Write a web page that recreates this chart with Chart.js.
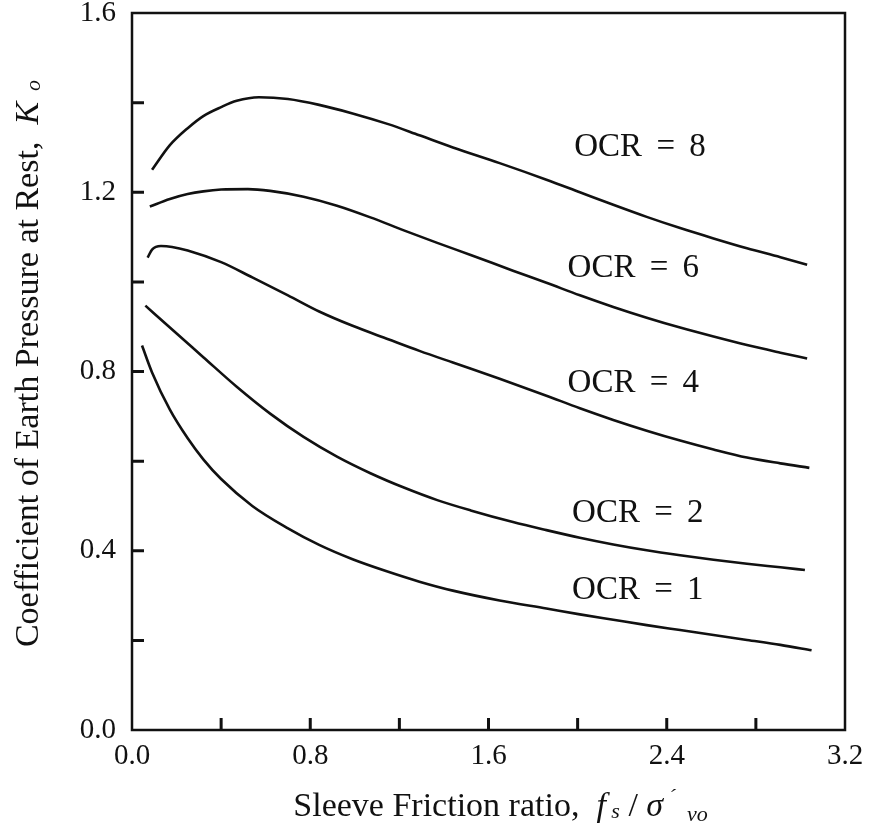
<!DOCTYPE html>
<html>
<head>
<meta charset="utf-8">
<script src="https://cdn.jsdelivr.net/npm/chart.js@4.4.1/dist/chart.umd.min.js"></script>
<style>
  html, body { margin: 0; padding: 0; background: #fff; }
  #wrap { width: 870px; height: 824px; }
</style>
</head>
<body>
<div id="wrap"><canvas id="chart"></canvas></div>
<script>
// Ko vs sleeve friction ratio, one curve per OCR
const ocrNames = ['OCR = 8', 'OCR = 6', 'OCR = 4', 'OCR = 2', 'OCR = 1'];

const ocr8X = [0.09, 0.17, 0.25, 0.32, 0.40, 0.47, 0.57, 0.70, 0.84, 0.99, 1.15, 1.29, 1.44, 1.65, 1.86, 2.01, 2.16, 2.31, 2.46, 2.61, 2.76, 2.91, 3.03];
const ocr8K = [1.25, 1.305, 1.343, 1.370, 1.390, 1.404, 1.412, 1.408, 1.395, 1.376, 1.352, 1.327, 1.300, 1.265, 1.228, 1.200, 1.172, 1.145, 1.120, 1.097, 1.075, 1.055, 1.038];

const ocr6X = [0.08, 0.17, 0.25, 0.32, 0.40, 0.52, 0.62, 0.77, 0.92, 1.07, 1.22, 1.37, 1.52, 1.71, 1.86, 2.01, 2.16, 2.31, 2.46, 2.61, 2.76, 2.91, 3.03];
const ocr6K = [1.168, 1.185, 1.196, 1.202, 1.206, 1.207, 1.203, 1.190, 1.170, 1.144, 1.115, 1.087, 1.060, 1.025, 0.998, 0.970, 0.944, 0.920, 0.898, 0.878, 0.859, 0.842, 0.829];

const ocr4X = [0.07, 0.09, 0.13, 0.18, 0.25, 0.40, 0.54, 0.70, 0.84, 0.99, 1.15, 1.29, 1.44, 1.65, 1.86, 2.01, 2.16, 2.31, 2.46, 2.61, 2.76, 2.91, 3.04];
const ocr4K = [1.054, 1.072, 1.080, 1.078, 1.070, 1.044, 1.010, 0.970, 0.934, 0.902, 0.872, 0.846, 0.820, 0.784, 0.746, 0.718, 0.692, 0.668, 0.646, 0.626, 0.608, 0.595, 0.585];

const ocr2X = [0.06, 0.17, 0.32, 0.47, 0.62, 0.77, 0.92, 1.07, 1.22, 1.37, 1.52, 1.71, 1.86, 2.01, 2.16, 2.31, 2.46, 2.61, 2.76, 2.91, 3.02];
const ocr2K = [0.947, 0.898, 0.832, 0.766, 0.706, 0.654, 0.610, 0.573, 0.541, 0.513, 0.490, 0.464, 0.446, 0.429, 0.414, 0.401, 0.390, 0.380, 0.371, 0.363, 0.357];

const ocr1X = [0.045, 0.09, 0.17, 0.25, 0.32, 0.40, 0.54, 0.70, 0.84, 0.99, 1.15, 1.29, 1.44, 1.65, 1.86, 2.01, 2.16, 2.31, 2.46, 2.61, 2.76, 2.91, 3.05];
const ocr1K = [0.858, 0.798, 0.715, 0.651, 0.604, 0.560, 0.500, 0.450, 0.413, 0.381, 0.353, 0.331, 0.311, 0.289, 0.271, 0.258, 0.246, 0.234, 0.223, 0.212, 0.201, 0.190, 0.178];

// where each "OCR = n" label sits, in data units (label centre)
const labelX = [2.28, 2.25, 2.25, 2.27, 2.27];
const labelK = [1.30, 1.03, 0.773, 0.484, 0.312];

const xTickLabels = ['0.0', '0.8', '1.6', '2.4', '3.2'];
const yTickLabels = ['0.0', '0.4', '0.8', '1.2', '1.6'];

const seriesX = [ocr8X, ocr6X, ocr4X, ocr2X, ocr1X];
const seriesK = [ocr8K, ocr6K, ocr4K, ocr2K, ocr1K];

const ink = '#111';
const serif = '"Liberation Serif", "Times New Roman", serif';

// draw a run of text pieces with different fonts, centred on cx
function drawRich(ctx, segs, cx, baseY) {
  let total = 0;
  segs.forEach(s => { ctx.font = s.font; s.w = ctx.measureText(s.t).width; total += s.w; });
  let x = cx - total / 2;
  ctx.textAlign = 'left';
  ctx.textBaseline = 'alphabetic';
  segs.forEach(s => {
    ctx.font = s.font;
    ctx.fillText(s.t, x, baseY + (s.dy || 0));
    x += s.w;
  });
}

const decorations = {
  id: 'decorations',
  afterDraw(chart) {
    const { ctx, chartArea: a, scales: { x, y } } = chart;
    ctx.save();
    ctx.strokeStyle = ink;
    ctx.fillStyle = ink;
    ctx.lineWidth = 2.5;
    ctx.strokeRect(a.left, a.top, a.right - a.left, a.bottom - a.top);

    // short ticks pointing into the plot
    ctx.lineWidth = 3;
    ctx.beginPath();
    x.ticks.forEach(t => {
      if (t.value <= x.min + 1e-6 || t.value >= x.max - 1e-6) return;
      const px = x.getPixelForValue(t.value);
      ctx.moveTo(px, a.bottom);
      ctx.lineTo(px, a.bottom - 12);
    });
    y.ticks.forEach(t => {
      if (t.value <= y.min + 1e-6 || t.value >= y.max - 1e-6) return;
      const py = y.getPixelForValue(t.value);
      ctx.moveTo(a.left, py);
      ctx.lineTo(a.left + 12, py);
    });
    ctx.stroke();

    // curve labels
    ctx.font = '33px ' + serif;
    ctx.textAlign = 'center';
    ctx.textBaseline = 'middle';
    if ('wordSpacing' in ctx) ctx.wordSpacing = '6px';
    ocrNames.forEach((name, i) => {
      ctx.fillText(name, x.getPixelForValue(labelX[i]), y.getPixelForValue(labelK[i]));
    });
    if ('wordSpacing' in ctx) ctx.wordSpacing = '0px';

    // x axis title
    const big = '34px ' + serif, bigIt = 'italic 34px ' + serif, small = 'italic 22px ' + serif;
    drawRich(ctx, [
      { t: 'Sleeve Friction ratio,  ', font: big },
      { t: 'f', font: bigIt },
      { t: ' s', font: small, dy: 2 },
      { t: ' / ', font: big },
      { t: 'σ', font: bigIt },
      { t: ' ´ ', font: small, dy: -12 },
      { t: ' vo', font: small, dy: 5 }
    ], (a.left + a.right) / 2 + 12, 816);

    // y axis title, rotated
    ctx.translate(38, (a.top + a.bottom) / 2 - 8);
    ctx.rotate(-Math.PI / 2);
    drawRich(ctx, [
      { t: 'Coefficient of Earth Pressure at Rest,  ', font: big },
      { t: 'K', font: bigIt },
      { t: '  o', font: small, dy: 2 }
    ], 0, 0);
    ctx.restore();
  }
};

const datasets = seriesX.map((xs, i) => ({
  label: ocrNames[i],
  data: xs.map((v, j) => ({ x: v, y: seriesK[i][j] })),
  borderColor: ink,
  borderWidth: 2.6,
  pointRadius: 0,
  fill: false,
  cubicInterpolationMode: 'monotone'
}));

new Chart(document.getElementById('chart'), {
  type: 'line',
  data: { datasets },
  options: {
    responsive: true,
    maintainAspectRatio: false,
    animation: false,
    layout: { padding: { top: 13, right: 25, left: 0, bottom: 0 } },
    plugins: { legend: { display: false }, tooltip: { enabled: false } },
    scales: {
      x: {
        type: 'linear',
        min: 0,
        max: 3.2,
        afterFit: s => { s.height = 94; s.paddingLeft = 0; s.paddingRight = 0; },
        grid: { display: false, drawTicks: false },
        border: { display: false },
        ticks: {
          stepSize: 0.4,
          autoSkip: false,
          maxRotation: 0,
          padding: 9,
          color: ink,
          font: { family: serif, size: 29 },
          callback: v => { const s = v.toFixed(1); return xTickLabels.includes(s) ? s : ''; }
        }
      },
      y: {
        min: 0,
        max: 1.6,
        afterFit: s => { s.width = 132; s.paddingTop = 0; s.paddingBottom = 0; },
        grid: { display: false, drawTicks: false },
        border: { display: false },
        ticks: {
          stepSize: 0.2,
          autoSkip: false,
          padding: 16,
          color: ink,
          font: { family: serif, size: 29 },
          callback: v => { const s = v.toFixed(1); return yTickLabels.includes(s) ? s : ''; }
        }
      }
    }
  },
  plugins: [decorations]
});
</script>
</body>
</html>
